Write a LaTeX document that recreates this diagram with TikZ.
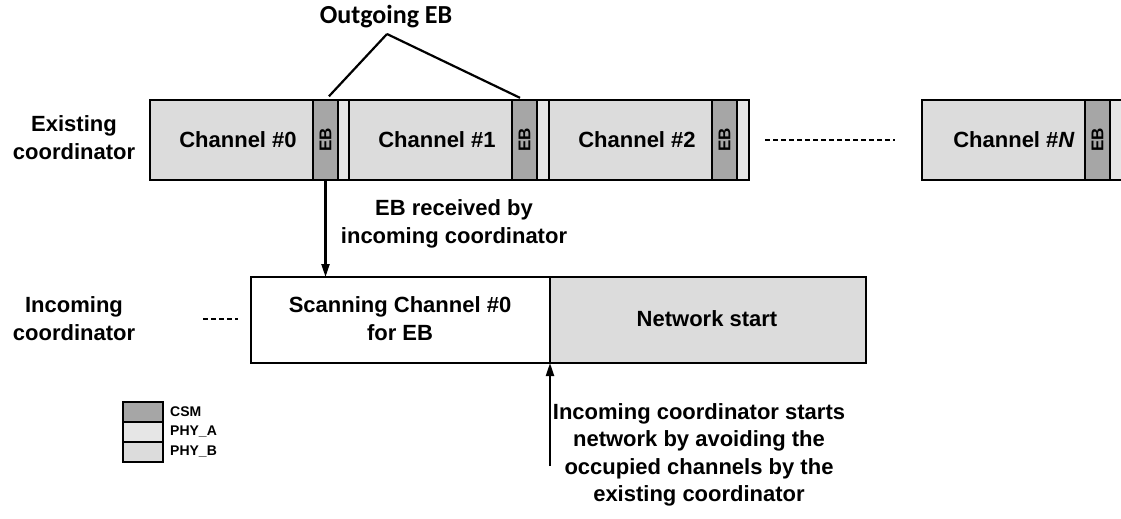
\documentclass[tikz,border=0pt]{standalone}
\usepackage{fontspec}
\setmainfont{Liberation Sans}
\newfontfamily\carl{Carlito}
\usetikzlibrary{arrows.meta}
\definecolor{csm}{HTML}{A6A6A6}
\definecolor{phya}{HTML}{E6E6E6}
\definecolor{phyb}{HTML}{DCDCDC}
\begin{document}
\begin{tikzpicture}[x=1pt,y=-1pt,line width=2.4pt,
  box/.style={draw,line width=2.6pt,anchor=north west,inner sep=0pt,outer sep=0pt,minimum height=80pt},
  chbox/.style={box,fill=phyb,minimum width=163pt},
  ebbox/.style={box,fill=csm,minimum width=25pt},
  pabox/.style={box,fill=phya,minimum width=12pt},
  big/.style={font=\fontsize{22}{28}\selectfont\bfseries,align=center,inner sep=0pt},
  ebtxt/.style={font=\fontsize{17}{19}\selectfont\bfseries,rotate=90,inner sep=0pt},
  legbox/.style={draw,anchor=north west,inner sep=0pt,outer sep=0pt,minimum width=40pt,minimum height=20pt,line width=1.2pt},
  legtxt/.style={font=\fontsize{14}{16}\selectfont\bfseries,anchor=west,inner sep=0pt},
  arr/.style={line width=2.2pt,-{Triangle[length=13pt,width=8pt]}},
  thin/.style={line width=2.2pt},
  dashline/.style={line width=2pt,dash pattern=on 5pt off 3pt}
]
\clip (0,0) rectangle (1121,519);
\fill[white] (0,0) rectangle (1121,519);

% existing coordinator row
\node[chbox] (c0) at (150,100) {};
\node[ebbox] (e0) at (313,100) {};
\node[pabox] (s0) at (338,100) {};
\node[chbox] (c1) at (349,100) {};
\node[ebbox] (e1) at (512,100) {};
\node[pabox] (s1) at (537,100) {};
\node[chbox] (c2) at (549,100) {};
\node[ebbox] (e2) at (712,100) {};
\node[pabox] (s2) at (737,100) {};
\node[chbox] (cN) at (922,100) {};
\node[ebbox] (eN) at (1085,100) {};
\node[pabox,minimum width=14pt] (sN) at (1110,100) {};

\node[big] (t0) at (238,140) {Channel \#0};
\node[big] (t1) at (437,140) {Channel \#1};
\node[big] (t2) at (637,140) {Channel \#2};
\node[big] (tN) at (1014,140) {Channel \#\textit{N}};
\node[ebtxt] (l0) at (e0.center) {EB};
\node[ebtxt] (l1) at (e1.center) {EB};
\node[ebtxt] (l2) at (e2.center) {EB};
\node[ebtxt] (lN) at (eN.center) {EB};

\coordinate (d1a) at (765,140);
\coordinate (d1b) at (895,140);
\draw[dashline] (d1a) -- (d1b);

% labels
\node[big] (exist) at (74,138) {Existing\\coordinator};
\node[big] (incom) at (74,319) {Incoming\\coordinator};

% outgoing EB
\node[font=\carl\fontsize{26}{28}\selectfont\bfseries,inner sep=0pt] (out) at (386,17) {Outgoing EB};
\coordinate (apex) at (387,34);
\draw[thin,shorten >=5pt] (apex) -- (e0.north);
\draw[thin,shorten >=5pt] (apex) -- (e1.north);

% incoming coordinator row
\node[box,fill=white,minimum width=299pt,minimum height=86pt] (scan) at (251,277) {};
\node[box,fill=phyb,minimum width=316pt,minimum height=86pt] (net) at (550,277) {};
\node[big] (scantxt) at (400,319) {Scanning Channel \#0\\for EB};
\node[big] (nettxt) at (707,319) {Network start};

\coordinate (d2a) at (203,319);
\coordinate (d2b) at (238,319);
\draw[dashline] (d2a) -- (d2b);

% arrows
\draw[arr] (e0.south) -- (e0.south |- scan.north);
\node[big] (recv) at (454,224) {EB received by\\incoming coordinator};

\coordinate (up) at (550,466);
\draw[arr] (up) -- (net.south west);
\node[big,font=\fontsize{22}{27.5}\selectfont\bfseries] (note) at (699,455) {Incoming coordinator starts\\network by avoiding the\\occupied channels by the\\existing coordinator};

% legend
\node[legbox,fill=csm] (lg1) at (123,402) {};
\node[legbox,fill=phya] (lg2) at (123,422) {};
\node[legbox,fill=phyb] (lg3) at (123,442) {};
\node[legtxt] (lt1) at (169,412) {CSM};
\node[legtxt] (lt2) at (169,432) {PHY\_A};
\node[legtxt] (lt3) at (169,452) {PHY\_B};
\end{tikzpicture}
\end{document}
